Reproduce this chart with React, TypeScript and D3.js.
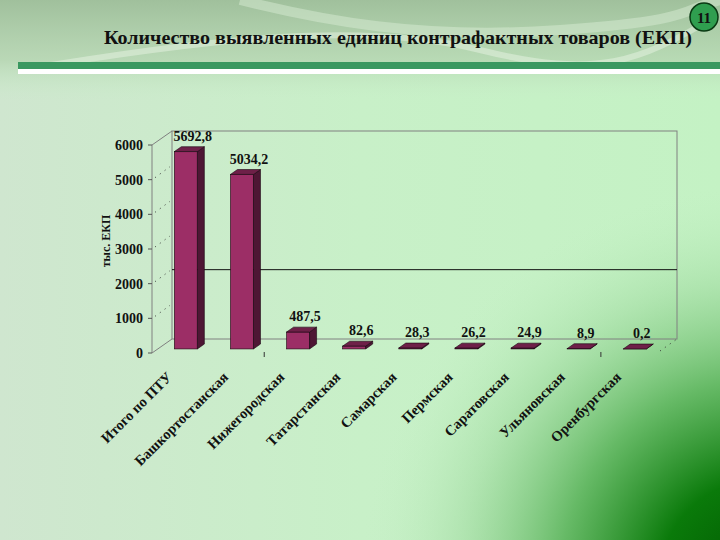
import React from "react";
import * as d3 from "d3";

const categories = [
  "Итого по ПТУ",
  "Башкортостанская",
  "Нижегородская",
  "Татарстанская",
  "Самарская",
  "Пермская",
  "Саратовская",
  "Ульяновская",
  "Оренбургская",
];
const values = [5692.8, 5034.2, 487.5, 82.6, 28.3, 26.2, 24.9, 8.9, 0.2];
const yTicks = [0, 1000, 2000, 3000, 4000, 5000, 6000];
const backGridValues = [2000];
const categoryTickIdx = [2, 8];
const title = "Количество выявленных единиц контрафактных товаров (ЕКП)";
const yTitle = "тыс. ЕКП";
const pageNum = "11";

const W = 720;
const H = 540;
const X0 = 152;
const X1 = 657;
const DX = 20;
const DY = -14;
const F1 = 0.29; // bar front depth fraction
const F2 = 0.64; // bar back depth fraction

const font = "'Liberation Serif', 'Times New Roman', serif";

export default function App() {
  const y = d3.scaleLinear().domain([0, 6000]).range([353, 145]);
  const x = d3
    .scaleBand<string>()
    .domain(categories)
    .range([X0, X1])
    .paddingInner(0.59)
    .paddingOuter(0.295);
  const bw = x.bandwidth();
  const y0 = y(0);
  const fdx = DX * F1;
  const fdy = DY * F1;
  const ddx = DX * (F2 - F1);
  const ddy = DY * (F2 - F1);
  const step = x.step();
  const fmt = (v: number) => v.toFixed(1).replace(".", ",");

  return (
    <svg
      width={W}
      height={H}
      style={{ position: "absolute", left: 0, top: 0 }}
      viewBox={`0 0 ${W} ${H}`}
    >
      <defs>
        <radialGradient id="corner" cx="760" cy="580" r="400" gradientUnits="userSpaceOnUse">
          <stop offset="0" stopColor="#005800" stopOpacity="1" />
          <stop offset="0.25" stopColor="#0a7a0a" stopOpacity="1" />
          <stop offset="0.5" stopColor="#5cb45c" stopOpacity="0.9" />
          <stop offset="0.75" stopColor="#9ad89a" stopOpacity="0.5" />
          <stop offset="1" stopColor="#c6f2c6" stopOpacity="0" />
        </radialGradient>
        <linearGradient id="base" x1="0" y1="0" x2="1" y2="0">
          <stop offset="0" stopColor="#cfe6cf" />
          <stop offset="0.5" stopColor="#c8f0c8" />
          <stop offset="1" stopColor="#c4f2c4" />
        </linearGradient>
        <linearGradient id="topband" x1="0" y1="0" x2="0" y2="1">
          <stop offset="0" stopColor="#a0c09c" stopOpacity="1" />
          <stop offset="0.6" stopColor="#b4d4b0" stopOpacity="0.8" />
          <stop offset="1" stopColor="#c8ecc8" stopOpacity="0" />
        </linearGradient>
      </defs>
      <rect x={0} y={0} width={W} height={H} fill="url(#base)" />
      <rect x={0} y={0} width={W} height={100} fill="url(#topband)" />
      <rect x={0} y={0} width={W} height={H} fill="url(#corner)" />
      <path d="M 20 70 C 200 40, 360 20, 480 50 S 640 60, 710 20" fill="none" stroke="#e8f4e4" strokeWidth={6} opacity={0.5} />
      <path d="M 240 0 C 320 20, 420 40, 560 30 S 680 10, 720 0" fill="none" stroke="#d8ecd4" strokeWidth={10} opacity={0.5} />

      {/* green stripe */}
      <rect x={18} y={62} width={W - 18} height={7} fill="#3a9860" />
      <rect x={18} y={69} width={W - 18} height={5} fill="#ffffff" />

      {/* title */}
      <text
        x={398}
        y={44}
        textAnchor="middle"
        fontFamily={font}
        fontWeight="bold"
        fontSize={19}
        textLength={588}
        lengthAdjust="spacingAndGlyphs"
        fill="#111"
      >
        {title}
      </text>

      {/* page number */}
      <circle cx={704} cy={17} r={14} fill="#2f9e4f" stroke="#0a3a14" strokeWidth={1.5} />
      <text x={704} y={22.5} textAnchor="middle" fontFamily={font} fontWeight="bold" fontSize={15} fill="#111">
        {pageNum}
      </text>

      {/* back wall */}
      <rect
        x={X0 + DX}
        y={y(6000) + DY}
        width={X1 - X0}
        height={y0 - y(6000)}
        fill="none"
        stroke="#808080"
        strokeWidth={1}
      />
      {backGridValues.map((v) => (
        <line key={v} x1={X0 + DX} x2={X1 + DX} y1={y(v) + DY} y2={y(v) + DY} stroke="#111" strokeWidth={1} />
      ))}
      {/* side wall edges */}
      <line x1={X0} y1={y(6000)} x2={X0 + DX} y2={y(6000) + DY} stroke="#808080" />
      <line x1={X0} y1={y0} x2={X0 + DX} y2={y0 + DY} stroke="#808080" />
      <line x1={X0} y1={y(6000)} x2={X0} y2={y0} stroke="#808080" />
      {yTicks.slice(1, -1).map((t) => (
        <line
          key={"d" + t}
          x1={X0 + 3}
          y1={y(t) - 2}
          x2={X0 + DX - 2}
          y2={y(t) + DY + 1}
          stroke="#333"
          strokeDasharray="1,5"
        />
      ))}
      <line x1={X1 + 3} y1={y0 - 2} x2={X1 + DX} y2={y0 + DY} stroke="#333" strokeDasharray="1,5" />

      {/* y ticks */}
      {yTicks.map((t) => (
        <g key={t}>
          <line x1={X0 - 4} x2={X0} y1={y(t)} y2={y(t)} stroke="#555" />
          <text
            x={X0 - 9}
            y={y(t) + 5}
            textAnchor="end"
            fontFamily={font}
            fontWeight="bold"
            fontSize={14}
            fill="#111"
          >
            {t}
          </text>
        </g>
      ))}
      <text
        transform={`translate(110,241) rotate(-90)`}
        textAnchor="middle"
        fontFamily={font}
        fontWeight="bold"
        fontSize={12}
        fill="#111"
      >
        {yTitle}
      </text>

      {categoryTickIdx.map((i) => (
        <line key={"ct" + i} x1={X0 + step * i} x2={X0 + step * i} y1={y0 - 1} y2={y0 + 4} stroke="#333" />
      ))}

      {/* bars */}
      {categories.map((c, i) => {
        const v = values[i];
        const h = y0 - y(v);
        const bx = (x(c) as number) + fdx;
        const by = y0 + fdy;
        const top = by - h;
        const side = `M${bx + bw},${top} L${bx + bw + ddx},${top + ddy} L${bx + bw + ddx},${by + ddy} L${bx + bw},${by} Z`;
        const topF = `M${bx},${top} L${bx + ddx},${top + ddy} L${bx + bw + ddx},${top + ddy} L${bx + bw},${top} Z`;
        return (
          <g key={c}>
            <rect x={bx} y={top} width={bw} height={h} fill="#9c2e66" stroke="#1a0510" strokeWidth={0.6} />
            <path d={side} fill="#4e1634" stroke="#1a0510" strokeWidth={0.6} />
            <path d={topF} fill="#6e2048" stroke="#1a0510" strokeWidth={0.6} />
            <text
              x={bx + bw / 2 + 7}
              y={top + ddy - 6}
              textAnchor="middle"
              fontFamily={font}
              fontWeight="bold"
              fontSize={14}
              fill="#111"
            >
              {fmt(v)}
            </text>
          </g>
        );
      })}

      {/* category labels */}
      {categories.map((c) => {
        const cx = (x(c) as number) + bw / 2 - 7;
        return (
          <text
            key={"l" + c}
            transform={`translate(${cx},378) rotate(-45)`}
            textAnchor="end"
            fontFamily={font}
            fontWeight="bold"
            fontSize={14.5}
            fill="#111"
          >
            {c}
          </text>
        );
      })}
    </svg>
  );
}
